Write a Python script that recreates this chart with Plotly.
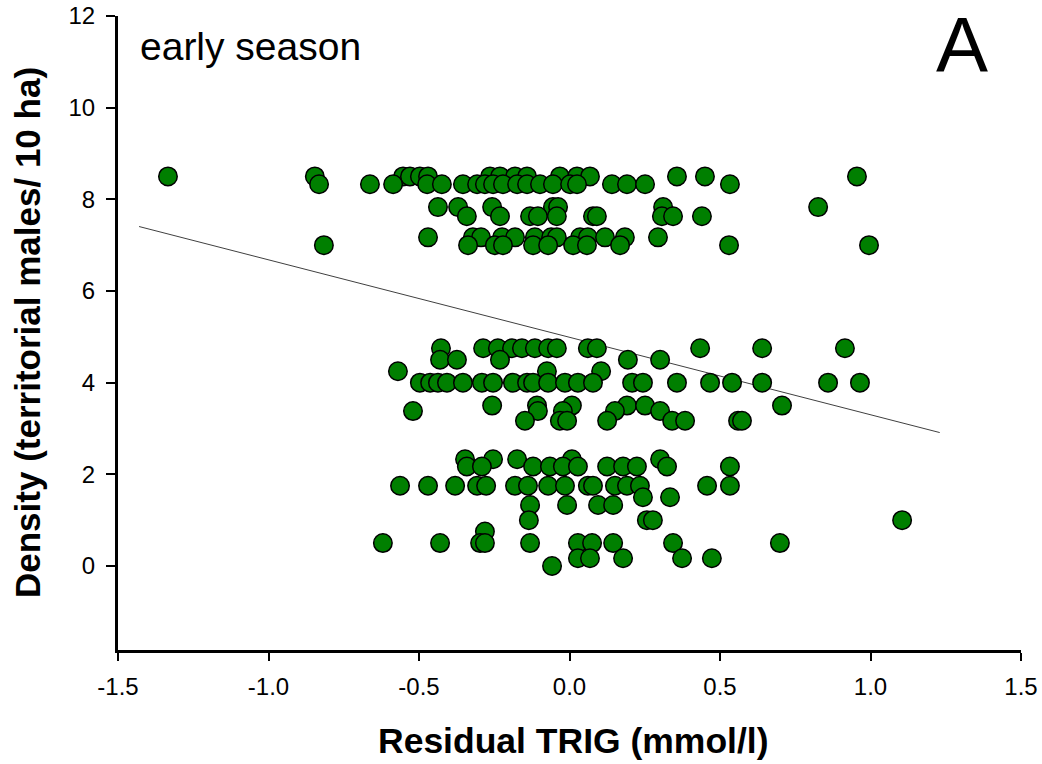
import plotly.graph_objects as go

# Residual TRIG (mmol/l) of each bird, grouped by the territorial-male density of its plot
x_d850 = [-1.334, -0.846, -0.553, -0.530, -0.497, -0.470, -0.264, -0.231, -0.181, -0.141,
          -0.032, 0.025, 0.068, 0.357, 0.450, 0.955]
x_d833 = [-0.832, -0.663, -0.586, -0.473, -0.424, -0.354, -0.307, -0.281, -0.254, -0.221,
          -0.174, -0.141, -0.098, -0.055, 0.002, 0.025, 0.141, 0.191, 0.251, 0.533]
x_d783 = [-0.437, -0.370, -0.257, -0.055, -0.038, 0.311, 0.826]
x_d763 = [-0.341, -0.231, -0.131, -0.105, -0.042, 0.078, 0.091, 0.307, 0.344, 0.440]
x_d717 = [-0.470, -0.321, -0.294, -0.224, -0.181, -0.115, -0.061, -0.042, 0.035, 0.061,
          0.118, 0.184, 0.294]
x_d700 = [-0.816, -0.337, -0.248, -0.221, -0.121, -0.071, 0.012, 0.058, 0.168, 0.530, 0.995]
x_d475 = [-0.427, -0.287, -0.238, -0.191, -0.158, -0.115, -0.071, -0.042, 0.061, 0.091,
          0.434, 0.640, 0.915]
x_d450 = [-0.430, -0.374, -0.231, 0.194, 0.301]
x_d425 = [-0.570, -0.075, 0.105]
x_d400 = [-0.497, -0.463, -0.437, -0.407, -0.354, -0.291, -0.254, -0.188, -0.141, -0.121,
          -0.071, -0.015, 0.028, 0.078, 0.208, 0.244, 0.357, 0.467, 0.540, 0.640, 0.859, 0.965]
x_d350 = [-0.257, -0.108, 0.008, 0.191, 0.251, 0.706]
x_d338 = [-0.520, -0.105, -0.022, 0.151, 0.301]
x_d317 = [-0.148, -0.032, -0.008, 0.125, 0.341, 0.384, 0.560, 0.573]
x_d233 = [-0.347, -0.254, -0.174, 0.008, 0.301]
x_d217 = [-0.341, -0.291, -0.121, -0.065, -0.022, 0.028, 0.125, 0.178, 0.224, 0.324, 0.533]
x_d175 = [-0.563, -0.470, -0.380, -0.307, -0.277, -0.181, -0.138, -0.071, -0.015, 0.061,
          0.078, 0.151, 0.191, 0.234, 0.457, 0.533]
x_d150 = [0.244, 0.334]
x_d133 = [-0.131, -0.008, 0.095, 0.145]
x_d100 = [-0.135, 0.257, 0.277, 1.105]
x_d075 = [-0.281]
x_d050 = [-0.620, -0.430, -0.297, -0.281, -0.131, 0.028, 0.075, 0.145, 0.344, 0.699]
x_d017 = [0.028, 0.068, 0.178, 0.374, 0.473]
x_d000 = [-0.058]

density_levels = [8.5, 8.33, 7.83, 7.63, 7.17, 7.0, 4.75, 4.5, 4.25, 4.0, 3.5, 3.38, 3.17,
                  2.33, 2.17, 1.75, 1.5, 1.33, 1.0, 0.75, 0.5, 0.17, 0.0]
residual_groups = [x_d850, x_d833, x_d783, x_d763, x_d717, x_d700, x_d475, x_d450, x_d425,
                   x_d400, x_d350, x_d338, x_d317, x_d233, x_d217, x_d175, x_d150, x_d133,
                   x_d100, x_d075, x_d050, x_d017, x_d000]

# Least-squares line (density = intercept + slope * residual)
fit_intercept = 4.99
fit_slope = -1.69
fit_x = [-1.43, 1.23]

x_ticks = [-1.5, -1.0, -0.5, 0.0, 0.5, 1.0, 1.5]
x_tick_text = ["-1.5", "-1.0", "-0.5", "0.0", "0.5", "1.0", "1.5"]
y_ticks = [0, 2, 4, 6, 8, 10, 12]

xs, ys = [], []
for level, group in zip(density_levels, residual_groups):
    xs.extend(group)
    ys.extend([level] * len(group))

fit_y = [fit_intercept + fit_slope * v for v in fit_x]

FONT = "Liberation Sans, Arial, sans-serif"

fig = go.Figure()
fig.add_trace(go.Scatter(
    x=fit_x, y=fit_y, mode="lines",
    line=dict(color="#404040", width=1),
    hoverinfo="skip", showlegend=False,
))
fig.add_trace(go.Scatter(
    x=xs, y=ys, mode="markers",
    marker=dict(size=18.5, color="#007f00", line=dict(color="black", width=1.5)),
    showlegend=False,
))

axis_common = dict(
    showline=True, linewidth=3, linecolor="black",
    ticks="outside", tickwidth=2, tickcolor="black",
    showgrid=False, zeroline=False, automargin=False,
    tickfont=dict(family=FONT, size=24, color="black"),
)

fig.update_layout(
    width=1042, height=764,
    margin=dict(l=118, r=21, t=16, b=114, autoexpand=False),
    paper_bgcolor="white", plot_bgcolor="white",
    font=dict(family=FONT, color="black"),
    xaxis=dict(range=[-1.5, 1.5], tickvals=x_ticks, ticktext=x_tick_text,
               ticklen=8, ticklabelstandoff=5, **axis_common),
    yaxis=dict(range=[-1.833, 12], tickvals=y_ticks,
               ticklen=9, ticklabelstandoff=6, **axis_common),
    annotations=[
        dict(text="<b>Residual TRIG (mmol/l)</b>", xref="paper", yref="paper",
             x=0.5, y=0, xanchor="center", yanchor="middle", yshift=-91, xshift=4,
             showarrow=False, font=dict(family=FONT, size=35.5)),
        dict(text="<b>Density (territorial males/ 10 ha)</b>", xref="paper", yref="paper",
             x=0, y=0.5, xanchor="center", yanchor="middle", xshift=-91, textangle=-90,
             showarrow=False, font=dict(family=FONT, size=35)),
        dict(text="early season", xref="paper", yref="paper",
             x=0.0221, y=0.952, xanchor="left", yanchor="middle",
             showarrow=False, font=dict(family=FONT, size=39)),
        dict(text="A", xref="paper", yref="paper",
             x=0.935, y=0.954, xanchor="center", yanchor="middle",
             showarrow=False, font=dict(family=FONT, size=78)),
    ],
)

fig.write_html("out.html")
